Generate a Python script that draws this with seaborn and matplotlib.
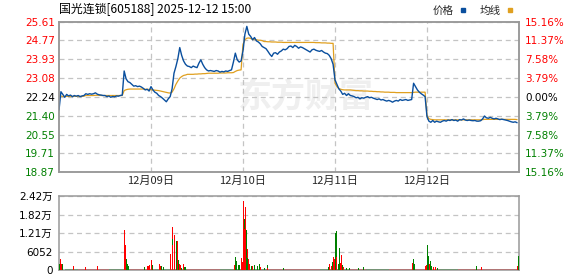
import numpy as np
import pandas as pd
import matplotlib
matplotlib.use('Agg')
import matplotlib.pyplot as plt
import seaborn as sns
from matplotlib.lines import Line2D

# ---------------- data ----------------
title_text = "国光连锁[605188] 2025-12-12 15:00"
date_labels = ["12月09日", "12月10日", "12月11日", "12月12日"]
prev_close = 22.24

price_ticks = [18.87, 19.71, 20.55, 21.40, 22.24, 23.08, 23.93, 24.77, 25.61]
pct_labels = ["15.16%", "11.37%", "7.58%", "3.79%", "0.00%", "3.79%", "7.58%", "11.37%", "15.16%"]
vol_ticks = [0, 6052, 12100, 18200, 24200]
vol_tick_labels = ["0", "6052", "1.21万", "1.82万", "2.42万"]

# price, one value per 5 minutes (48 per trading day)
price_d1 = [21.65, 22.47, 22.35, 22.22, 22.35, 22.28, 22.32, 22.25, 22.30, 22.27,
            22.30, 22.25, 22.28, 22.30, 22.38, 22.35, 22.38, 22.36, 22.38, 22.42,
            22.36, 22.33, 22.32, 22.30, 22.30, 22.25, 22.28, 22.22, 22.26, 22.24,
            22.28, 22.27, 22.30, 22.32, 23.40, 23.05, 22.92, 22.88, 22.80, 22.72,
            22.74, 22.70, 22.72, 22.68, 22.62, 22.55, 22.58, 22.50]
price_d2 = [22.70, 22.55, 22.45, 22.40, 22.30, 22.25, 22.18, 22.10, 22.02, 22.15,
            22.25, 22.60, 23.30, 23.60, 23.95, 24.45, 24.10, 23.85, 23.70, 23.62,
            23.60, 23.55, 23.62, 23.58, 23.55, 23.75, 23.90, 23.70, 23.55, 23.45,
            23.40, 23.42, 23.40, 23.38, 23.42, 23.40, 23.35, 23.38, 23.36, 23.40,
            23.38, 23.42, 23.45, 23.80, 24.20, 23.90, 23.80, 23.85]
price_d3 = [24.30, 25.05, 25.40, 25.05, 24.95, 24.80, 24.90, 24.75, 24.70, 24.62,
            24.50, 24.45, 24.40, 24.28, 24.15, 24.05, 24.20, 24.22, 24.15, 24.25,
            24.30, 24.38, 24.35, 24.40, 24.50, 24.52, 24.45, 24.55, 24.50, 24.42,
            24.48, 24.45, 24.40, 24.35, 24.30, 24.25, 24.35, 24.38, 24.33, 24.30,
            24.28, 24.32, 24.25, 24.20, 24.18, 24.10, 23.95, 23.70]
price_d4 = [23.00, 22.80, 22.60, 22.50, 22.35, 22.40, 22.30, 22.38, 22.30, 22.28,
            22.25, 22.20, 22.22, 22.15, 22.20, 22.18, 22.22, 22.25, 22.20, 22.22,
            22.18, 22.15, 22.12, 22.15, 22.10, 22.12, 22.08, 22.05, 22.08, 22.05,
            22.00, 22.05, 22.08, 22.05, 22.12, 22.08, 22.10, 22.12, 22.08, 22.10,
            22.12, 22.85, 22.70, 22.55, 22.45, 22.38, 22.32, 22.25]
price_d5 = [21.35, 21.15, 21.10, 21.18, 21.10, 21.15, 21.12, 21.10, 21.15, 21.18,
            21.15, 21.20, 21.18, 21.22, 21.18, 21.20, 21.15, 21.22, 21.20, 21.25,
            21.20, 21.18, 21.20, 21.18, 21.17, 21.18, 21.15, 21.15, 21.17, 21.25,
            21.38, 21.30, 21.28, 21.32, 21.28, 21.25, 21.28, 21.25, 21.22, 21.24,
            21.22, 21.20, 21.18, 21.15, 21.12, 21.10, 21.12, 21.08]

# average price line, same sampling
avg_d1 = [22.27, 22.27, 22.26, 22.26, 22.26, 22.26, 22.26, 22.26, 22.26, 22.26,
          22.26, 22.26, 22.26, 22.27, 22.30, 22.30, 22.30, 22.30, 22.30, 22.31,
          22.31, 22.31, 22.30, 22.30, 22.30, 22.30, 22.30, 22.30, 22.30, 22.30,
          22.30, 22.30, 22.30, 22.30, 22.52, 22.56, 22.58, 22.59, 22.59, 22.59,
          22.59, 22.59, 22.59, 22.59, 22.59, 22.58, 22.58, 22.57]
avg_d2 = [22.56, 22.55, 22.54, 22.53, 22.52, 22.50, 22.48, 22.46, 22.44, 22.42,
          22.41, 22.45, 22.60, 22.80, 22.95, 23.08, 23.15, 23.20, 23.22, 23.25,
          23.25, 23.25, 23.25, 23.26, 23.26, 23.27, 23.27, 23.28, 23.28, 23.29,
          23.30, 23.30, 23.30, 23.30, 23.30, 23.30, 23.31, 23.31, 23.31, 23.31,
          23.32, 23.32, 23.32, 23.33, 23.38, 23.42, 23.44, 23.45]
avg_d3 = [24.60, 24.80, 24.87, 24.88, 24.86, 24.82, 24.82, 24.80, 24.78, 24.78,
          24.76, 24.72, 24.72, 24.71, 24.71, 24.70, 24.70, 24.70, 24.69, 24.69,
          24.69, 24.68, 24.68, 24.68, 24.68, 24.68, 24.68, 24.68, 24.68, 24.68,
          24.68, 24.68, 24.68, 24.68, 24.68, 24.68, 24.68, 24.68, 24.67, 24.67,
          24.67, 24.66, 24.66, 24.66, 24.65, 24.65, 24.64, 24.64]
avg_d4 = [22.85, 22.70, 22.62, 22.58, 22.56, 22.55, 22.55, 22.55, 22.55, 22.54,
          22.53, 22.52, 22.52, 22.51, 22.51, 22.50, 22.50, 22.50, 22.49, 22.49,
          22.48, 22.48, 22.47, 22.47, 22.46, 22.46, 22.45, 22.45, 22.45, 22.44,
          22.44, 22.44, 22.43, 22.43, 22.43, 22.43, 22.43, 22.43, 22.43, 22.43,
          22.43, 22.44, 22.45, 22.45, 22.45, 22.45, 22.45, 22.45]
avg_d5 = [21.40, 21.26, 21.23, 21.22, 21.21, 21.21, 21.21, 21.21, 21.21, 21.21,
          21.21, 21.21, 21.21, 21.21, 21.21, 21.21, 21.21, 21.21, 21.21, 21.21,
          21.21, 21.21, 21.21, 21.21, 21.21, 21.21, 21.21, 21.21, 21.21, 21.22,
          21.23, 21.23, 21.23, 21.23, 21.23, 21.23, 21.23, 21.23, 21.23, 21.23,
          21.23, 21.23, 21.23, 21.23, 21.23, 21.23, 21.23, 21.22]

# notable volume bars (minute index over 5 days x 240 minutes), value, 1 = up (red)
vol_minute = [0, 2, 4, 6, 8, 10, 13, 37, 70, 100, 170, 173, 175, 178, 181, 223, 231, 234, 237,
              241, 243, 245, 253, 262, 264, 267, 272, 290, 292, 295, 296, 297, 300, 302, 307, 309,
              311, 314, 317, 320, 324, 327, 331, 457, 460, 463, 468, 472, 475, 478,
              481, 483, 484, 486, 489, 491, 492, 495, 498, 501, 505, 509, 514, 518, 522, 526,
              537, 543, 545, 585, 703, 705, 710, 713, 716, 718,
              721, 723, 725, 728, 731, 734, 736, 739, 742, 746, 749, 757, 781, 794, 922, 924,
              927, 956, 958,
              961, 964, 966, 969, 972, 977, 982, 987, 1090, 1103, 1114, 1196, 1199]
vol_value = [2000, 2000, 3600, 2000, 2000, 800, 800, 1300, 1000, 1300, 13100, 8060, 3700, 2000, 1300, 1000, 1300, 1300, 1700,
             3400, 1300, 1700, 1000, 2000, 1300, 1300, 1000, 2000, 5400, 14100, 10100, 8060, 3700, 11400, 9400, 9400,
             3400, 2000, 1700, 800, 2000, 1000, 1000, 1700, 4400, 3000, 1700, 1700, 4000, 2700,
             22800, 16800, 13400, 20800, 13100, 7000, 4000, 3700, 2000, 1300, 1300, 1700, 1000, 1300, 2000, 1000,
             800, 1700, 800, 700, 1000, 2000, 1300, 2700, 4400, 3700,
             12100, 12800, 4400, 2000, 7100, 2400, 5000, 1700, 1000, 1000, 700, 700, 700, 1000, 2400, 3700,
             2000, 1300, 1700,
             8060, 4700, 2000, 3000, 1300, 1000, 1000, 700, 1300, 1100, 900, 1300, 4700]
vol_up = [1, 0, 1, 1, 0, 0, 1, 1, 1, 1, 1, 1, 0, 0, 0, 0, 1, 1, 1,
          1, 0, 0, 0, 1, 1, 0, 0, 1, 1, 1, 0, 1, 0, 1, 0, 1,
          0, 1, 1, 0, 1, 0, 0, 1, 0, 0, 0, 0, 1, 1,
          1, 0, 1, 1, 0, 1, 0, 1, 1, 0, 1, 0, 0, 0, 0, 1,
          0, 0, 1, 0, 0, 1, 1, 0, 1, 1,
          0, 0, 1, 0, 0, 1, 1, 0, 1, 1, 0, 0, 0, 0, 1, 0,
          0, 1, 1,
          0, 0, 1, 0, 0, 1, 1, 0, 0, 1, 0, 1, 0]

# tiny background volume, drawn as thin segments along the base
base_start = [16, 50, 95, 130, 185, 250, 335, 360, 420, 545, 600, 680, 760, 800, 860, 930, 990, 1040, 1110, 1160]
base_end = [50, 95, 130, 185, 250, 335, 360, 420, 545, 600, 680, 760, 800, 860, 930, 990, 1040, 1110, 1160, 1196]
base_up = [0, 1, 1, 0, 1, 0, 1, 1, 0, 1, 1, 0, 1, 0, 1, 1, 0, 1, 1, 1]
base_vol = 320

# ---------------- styling ----------------
BLUE = "#0a4f9e"
GOLD = "#e0a020"
RED = "#ff0000"
GREEN = "#008000"
GRID = "#c4c4c4"
SPINE = "#999999"
CJK = ["Noto Sans CJK SC", "DejaVu Sans"]
LAT = ["DejaVu Sans", "Noto Sans CJK SC"]

sns.set_style("white")
plt.rcParams["font.family"] = LAT

fig = plt.figure(figsize=(5.78, 2.76), dpi=100)
W, H = 578.0, 276.0
ax = fig.add_axes([59 / W, 1 - 172 / H, 460 / W, 150.3 / H])
axv = fig.add_axes([59 / W, 1 - 270 / H, 460 / W, 73.7 / H])

price_days = [price_d1, price_d2, price_d3, price_d4, price_d5]
avg_days = [avg_d1, avg_d2, avg_d3, avg_d4, avg_d5]
rows = []
for d, (p, a) in enumerate(zip(price_days, avg_days)):
    for i, (pv, av) in enumerate(zip(p, a)):
        rows.append((d * 240 + i * 5, pv, av))
df = pd.DataFrame(rows, columns=["minute", "price", "avg"])

# watermark
ax.text(0.39, 0.50, "东方财富", transform=ax.transAxes, fontsize=24.5,
        family=CJK, fontweight="bold", color="#efefef", va="center", ha="left", zorder=0.5)

sns.lineplot(data=df, x="minute", y="avg", color=GOLD, linewidth=0.9, ax=ax, zorder=2)
sns.lineplot(data=df, x="minute", y="price", color=BLUE, linewidth=1.0, ax=ax, zorder=3)

ax.set_xlim(0, 1200)
ax.set_ylim(price_ticks[0], price_ticks[-1])
ax.set_yticks(price_ticks)
ax.set_yticklabels([f"{t:.2f}" for t in price_ticks], fontsize=7.5)
for lab, t in zip(ax.get_yticklabels(), price_ticks):
    lab.set_color(RED if t > prev_close + 1e-9 else (GREEN if t < prev_close - 1e-9 else "#000000"))
ax.set_xticks([240, 480, 720, 960])
ax.set_xticklabels(date_labels, fontsize=8, family=CJK)
ax.tick_params(axis="both", length=0)
ax.tick_params(axis="y", pad=3)
ax.tick_params(axis="x", pad=3)
ax.set_xlabel("")
ax.set_ylabel("")
ax.grid(True, color=GRID, linestyle=(0, (4, 3)), linewidth=0.9)

axr = ax.twinx()
axr.set_ylim(price_ticks[0], price_ticks[-1])
axr.set_yticks(price_ticks)
axr.set_yticklabels(pct_labels, fontsize=7.5)
for lab, t in zip(axr.get_yticklabels(), price_ticks):
    lab.set_color(RED if t > prev_close + 1e-9 else (GREEN if t < prev_close - 1e-9 else "#000000"))
axr.tick_params(axis="y", length=0, pad=4.5)
axr.grid(False)

for a in (ax, axr, axv):
    for s in a.spines.values():
        s.set_visible(True)
        s.set_color(SPINE)
        s.set_linewidth(1.1)

# volume
bcols = [RED if u else GREEN for u in base_up]
axv.bar(base_start, [base_vol] * len(base_start),
        width=[e - s for s, e in zip(base_start, base_end)], align="edge",
        color=bcols, linewidth=0, zorder=2)
vcols = [RED if u else GREEN for u in vol_up]
axv.bar(vol_minute, vol_value, width=2.4, color=vcols, linewidth=0, zorder=3)
axv.set_xlim(0, 1200)
axv.set_ylim(0, vol_ticks[-1])
axv.set_yticks(vol_ticks)
axv.set_yticklabels(vol_tick_labels, fontsize=7.5, color="#000000")
axv.set_xticks([])
axv.tick_params(axis="y", length=0, pad=4.5)
axv.grid(True, axis="y", color=GRID, linestyle=(0, (4, 3)), linewidth=0.9)
axv.grid(False, axis="x")

# title
fig.text(59 / W, 1 - 2.5 / H, title_text, fontsize=8.6, family=CJK, color="#000000",
         va="top", ha="left")

# legend
handles = [Line2D([], [], marker="s", linestyle="none", color=BLUE, markersize=3.2),
           Line2D([], [], marker="s", linestyle="none", color=GOLD, markersize=3.2)]
leg = ax.legend(handles, ["价格", "均线"], ncol=2, markerfirst=False, frameon=False,
                loc="center right", bbox_to_anchor=(0.99, 1 + (21.7 - 10.5) / 150.3),
                prop={"family": CJK, "size": 7.6}, handlelength=0.8, handletextpad=0.5,
                columnspacing=1.2, borderaxespad=0, borderpad=0)

fig.savefig("out.png", dpi=100)
